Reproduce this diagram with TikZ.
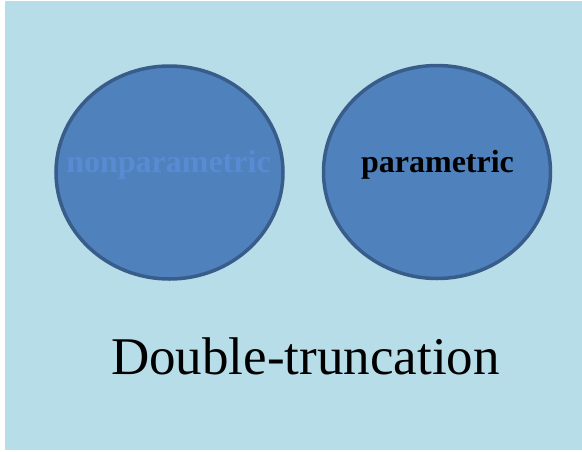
\documentclass[tikz,border=0pt]{standalone}
\usepackage{fontspec}
\setmainfont{Liberation Serif}
\usepackage{tikz}
\usetikzlibrary{shapes.geometric}

\definecolor{bgblue}{RGB}{183,221,232}
\definecolor{fillblue}{RGB}{79,129,189}
\definecolor{edgeblue}{RGB}{56,93,138}
\definecolor{paleblue}{RGB}{88,139,212}

\tikzset{
    blob/.style={ellipse, draw=edgeblue, fill=fillblue, line width=3.5pt,
                 minimum width=227pt, minimum height=213pt, inner sep=0pt},
    label32/.style={font=\fontsize{32}{36}\selectfont\bfseries, anchor=base, inner sep=0pt}
}

\begin{document}
\begin{tikzpicture}[x=1pt, y=-1pt]
                % Background
                \useasboundingbox (0,0) rectangle (582,451);
                \fill[bgblue] (5,1) rectangle (582,450);

                % Ellipses
                \node[blob] (np) at (169.5,172.5) {};
                \node[blob] (p) at (437,172) {};

                % Texts
                \node[label32, text=paleblue] (nplabel) at (168.5,172) {nonparametric};
                \node[label32, text=black] (plabel) at (437.5,172) {parametric};
                \node[font=\fontsize{53}{60}\selectfont, anchor=base, inner sep=0pt] (title) at (305.5,374) {Double-truncation};
            \end{tikzpicture}
\end{document}
